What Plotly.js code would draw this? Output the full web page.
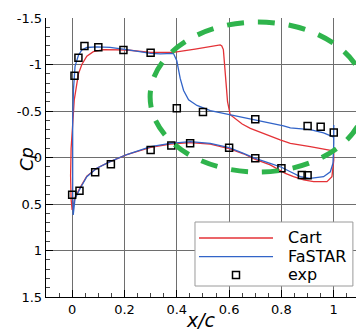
<!DOCTYPE html>
<html>
<head>
<meta charset="utf-8">
<script src="https://cdn.plot.ly/plotly-3.0.1.min.js"></script>
<style>
html,body{margin:0;padding:0;background:#fff;overflow:hidden;}
#chart{width:356px;height:331px;}
</style>
</head>
<body>
<div id="chart"></div>
<script>
// ---- Data ----
// Cart: upper surface TE -> LE, then lower surface LE -> TE
var cartX = [1.0, 0.993, 0.91, 0.834, 0.795, 0.74, 0.681, 0.65, 0.623, 0.604, 0.594, 0.589, 0.585, 0.581, 0.578, 0.572, 0.566, 0.47, 0.387, 0.3, 0.209, 0.12, 0.081, 0.056, 0.037, 0.024, 0.015, 0.008, 0.003, -0.004, -0.006, -0.004, 0.0,
             0.004, 0.011, 0.031, 0.056, 0.094, 0.145, 0.209, 0.3, 0.375, 0.451, 0.528, 0.6, 0.655, 0.7, 0.757, 0.815, 0.846, 0.885, 0.923, 0.974, 0.993, 1.0, 1.0];
var cartCp = [-0.06, -0.073, -0.116, -0.152, -0.19, -0.25, -0.314, -0.36, -0.42, -0.46, -0.6, -0.75, -0.9, -1.05, -1.16, -1.2, -1.21, -1.165, -1.13, -1.13, -1.156, -1.16, -1.138, -1.09, -1.0, -0.9, -0.76, -0.62, -0.4, -0.1, 0.2, 0.45, 0.565,
              0.5, 0.43, 0.32, 0.2, 0.115, 0.045, -0.03, -0.11, -0.145, -0.16, -0.145, -0.095, -0.04, 0.02, 0.08, 0.17, 0.206, 0.24, 0.26, 0.26, 0.206, 0.03, -0.06];

// FaSTAR: upper surface TE -> LE, then lower surface LE -> TE
var fastarX = [1.0, 0.974, 0.961, 0.91, 0.834, 0.808, 0.7, 0.604, 0.528, 0.477, 0.445, 0.426, 0.413, 0.4, 0.387, 0.337, 0.3, 0.209, 0.145, 0.094, 0.056, 0.037, 0.024, 0.011, 0.005, 0.002, 0.001, 0.002, 0.004,
               0.008, 0.011, 0.031, 0.056, 0.094, 0.145, 0.209, 0.3, 0.375, 0.451, 0.528, 0.6, 0.655, 0.7, 0.757, 0.8, 0.834, 0.872, 0.91, 0.961, 0.987, 0.997, 1.0, 1.0];
var fastarCp = [-0.22, -0.255, -0.265, -0.3, -0.318, -0.339, -0.4, -0.462, -0.505, -0.56, -0.62, -0.72, -0.85, -1.04, -1.12, -1.115, -1.12, -1.16, -1.185, -1.19, -1.183, -1.156, -1.1, -0.98, -0.73, -0.4, 0.0, 0.4, 0.618,
                0.53, 0.44, 0.331, 0.206, 0.116, 0.045, -0.032, -0.116, -0.152, -0.17, -0.152, -0.105, -0.045, 0.009, 0.062, 0.105, 0.153, 0.206, 0.224, 0.206, 0.153, 0.062, -0.15, -0.35];

// Experiment
var expX = [0.0, 0.009, 0.024, 0.047, 0.10, 0.196, 0.30, 0.40, 0.50, 0.70, 0.90, 0.95, 1.0,
            0.028, 0.088, 0.148, 0.30, 0.379, 0.451, 0.60, 0.70, 0.80, 0.878, 0.90];
var expCp = [0.40, -0.88, -1.073, -1.199, -1.185, -1.156, -1.127, -0.53, -0.49, -0.41, -0.34, -0.33, -0.27,
             0.357, 0.159, 0.073, -0.08, -0.13, -0.152, -0.105, 0.009, 0.116, 0.188, 0.19];

// Tick labels
var xTickVals = [0, 0.2, 0.4, 0.6, 0.8, 1];
var xTickText = ['0', '0.2', '0.4', '0.6', '0.8', '1'];
var yTickVals = [-1.5, -1, -0.5, 0, 0.5, 1, 1.5];
var yTickText = ['-1.5', '-1', '-0.5', '0', '0.5', '1', '1.5'];

var seriesNames = ['Cart', 'FaSTAR', 'exp'];
var redC = 'rgb(228,50,55)';
var blueC = 'rgb(50,100,200)';
var greenC = 'rgb(47,180,76)';
var FONT = 'DejaVu Sans, Verdana, sans-serif';

var traces = [
  {x: cartX, y: cartCp, name: seriesNames[0], type: 'scatter', mode: 'lines',
   line: {color: redC, width: 1.3}, hoverinfo: 'skip'},
  {x: fastarX, y: fastarCp, name: seriesNames[1], type: 'scatter', mode: 'lines',
   line: {color: blueC, width: 1.3}, hoverinfo: 'skip'},
  {x: expX, y: expCp, name: seriesNames[2], type: 'scatter', mode: 'markers',
   marker: {symbol: 'square-open', size: 7, color: 'black', line: {width: 1.5, color: 'black'}}, hoverinfo: 'skip'}
];

// Custom legend geometry (paper coords)
var lg = {x0: 0.4806, x1: 0.990, y0: 0.0394, y1: 0.2688, lx0: 0.4935, lx1: 0.7323, mx: 0.6129, tx: 0.774,
          rows: [0.2115, 0.1444, 0.0789]};

var shapes = [
  {type: 'circle', xref: 'x', yref: 'y', x0: 0.298, x1: 1.124, y0: -1.457, y1: 0.156,
   line: {color: greenC, width: 5, dash: '17px,14px'}, layer: 'above'},
  {type: 'rect', xref: 'paper', yref: 'paper', x0: lg.x0, x1: lg.x1, y0: lg.y0, y1: lg.y1,
   fillcolor: 'white', line: {color: '#9a9a9a', width: 1}, layer: 'above'},
  {type: 'line', xref: 'paper', yref: 'paper', x0: lg.lx0, x1: lg.lx1, y0: lg.rows[0], y1: lg.rows[0],
   line: {color: redC, width: 1.3}, layer: 'above'},
  {type: 'line', xref: 'paper', yref: 'paper', x0: lg.lx0, x1: lg.lx1, y0: lg.rows[1], y1: lg.rows[1],
   line: {color: blueC, width: 1.3}, layer: 'above'},
  {type: 'rect', xref: 'paper', yref: 'paper', xsizemode: 'pixel', ysizemode: 'pixel',
   xanchor: lg.mx, yanchor: lg.rows[2], x0: -3.5, x1: 3.5, y0: -3.5, y1: 3.5,
   line: {color: 'black', width: 1.5}, fillcolor: 'rgba(0,0,0,0)', layer: 'above'}
];

var annotations = [
  {text: 'Cp', xref: 'paper', yref: 'paper', x: -0.0645, y: 0.4946, xanchor: 'center', yanchor: 'middle',
   textangle: -90, showarrow: false, font: {family: FONT, size: 18, style: 'italic', color: 'black'}},
  {text: seriesNames[0], xref: 'paper', yref: 'paper', x: lg.tx, y: lg.rows[0], xanchor: 'left', yanchor: 'middle',
   showarrow: false, font: {family: FONT, size: 16, color: 'black'}},
  {text: seriesNames[1], xref: 'paper', yref: 'paper', x: lg.tx, y: lg.rows[1], xanchor: 'left', yanchor: 'middle',
   showarrow: false, font: {family: FONT, size: 16, color: 'black'}},
  {text: seriesNames[2], xref: 'paper', yref: 'paper', x: lg.tx, y: lg.rows[2], xanchor: 'left', yanchor: 'middle',
   showarrow: false, font: {family: FONT, size: 16, color: 'black'}}
];

var layout = {
  width: 356, height: 331,
  margin: {l: 46, r: 0, t: 18, b: 34, pad: 0},
  paper_bgcolor: 'white', plot_bgcolor: 'white',
  showlegend: false,
  font: {family: FONT, size: 13, color: 'black'},
  xaxis: {
    range: [-0.1, 1.085], tickmode: 'array', tickvals: xTickVals, ticktext: xTickText,
    showgrid: true, gridcolor: '#6e6e6e', gridwidth: 1, zeroline: false,
    showline: true, linecolor: 'black', linewidth: 1.3,
    ticks: 'inside', ticklen: 7, tickcolor: 'black', tickwidth: 1,
    minor: {tickmode: 'linear', tick0: 0, dtick: 0.05, ticks: 'inside', ticklen: 4, tickcolor: '#444', showgrid: false},
    tickfont: {family: FONT, size: 13, color: 'black'},
    title: {text: 'x/c', font: {family: FONT, size: 19, style: 'italic', color: 'black'}, standoff: 2},
    automargin: false, fixedrange: true
  },
  yaxis: {
    range: [1.5, -1.5], tickmode: 'array', tickvals: yTickVals, ticktext: yTickText,
    showgrid: true, gridcolor: '#6e6e6e', gridwidth: 1, zeroline: false,
    showline: true, linecolor: 'black', linewidth: 1.3,
    ticks: 'inside', ticklen: 7, tickcolor: 'black', tickwidth: 1,
    minor: {tickmode: 'linear', tick0: 0, dtick: 0.1, ticks: 'inside', ticklen: 4, tickcolor: '#444', showgrid: false},
    tickfont: {family: FONT, size: 13, color: 'black'},
    automargin: false, fixedrange: true
  },
  shapes: shapes,
  annotations: annotations
};

Plotly.newPlot('chart', traces, layout, {displayModeBar: false, staticPlot: true});
</script>
</body>
</html>
